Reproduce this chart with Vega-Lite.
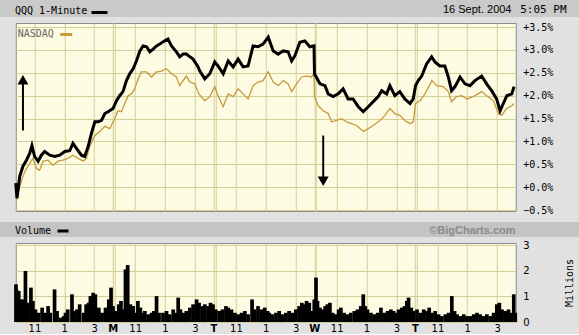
{
  "$schema": "https://vega.github.io/schema/vega-lite/v6.json",
  "background": "#e1e1e1",
  "padding": 0,
  "spacing": 0,
  "center": true,
  "config": {
    "view": {"stroke": null},
    "axis": {"domain": false, "ticks": false, "gridColor": "#d3cf9b", "gridOpacity": 1, "gridWidth": 1, "labelColor": "#000000", "titleColor": "#000000"}
  },
  "resolve": {"scale": {"color": "independent"}, "legend": {"color": "independent"}},
  "datasets": {
    "qqq": [
      {"t":15,"pct":0.09},{"t":20,"pct":-0.24},{"t":31,"pct":0.24},{"t":44,"pct":0.46},{"t":58,"pct":0.59},{"t":71,"pct":0.74},{"t":80,"pct":0.91},{"t":91,"pct":0.67},{"t":105,"pct":0.57},{"t":118,"pct":0.70},{"t":131,"pct":0.78},{"t":152,"pct":0.70},{"t":172,"pct":0.67},{"t":192,"pct":0.70},{"t":212,"pct":0.78},{"t":232,"pct":0.80},{"t":245,"pct":0.96},{"t":259,"pct":0.85},{"t":279,"pct":0.70},{"t":292,"pct":0.67},{"t":306,"pct":0.89},{"t":319,"pct":1.17},{"t":333,"pct":1.43},{"t":346,"pct":1.43},{"t":360,"pct":1.46},{"t":373,"pct":1.61},{"t":386,"pct":1.65},{"t":406,"pct":1.72},{"t":420,"pct":1.89},{"t":433,"pct":2.00},{"t":446,"pct":2.09},{"t":460,"pct":2.33},{"t":473,"pct":2.48},{"t":487,"pct":2.59},{"t":500,"pct":2.76},{"t":514,"pct":2.98},{"t":527,"pct":3.09},{"t":541,"pct":3.07},{"t":554,"pct":2.96},{"t":567,"pct":3.02},{"t":581,"pct":3.09},{"t":594,"pct":3.13},{"t":614,"pct":3.20},{"t":627,"pct":3.24},{"t":641,"pct":3.09},{"t":661,"pct":2.96},{"t":674,"pct":2.85},{"t":688,"pct":2.91},{"t":701,"pct":2.91},{"t":715,"pct":2.85},{"t":728,"pct":2.80},{"t":748,"pct":2.63},{"t":755,"pct":2.54},{"t":775,"pct":2.37},{"t":795,"pct":2.48},{"t":815,"pct":2.74},{"t":828,"pct":2.65},{"t":849,"pct":2.48},{"t":869,"pct":2.76},{"t":889,"pct":2.63},{"t":909,"pct":2.80},{"t":929,"pct":2.63},{"t":949,"pct":2.65},{"t":969,"pct":3.09},{"t":989,"pct":3.07},{"t":1009,"pct":3.13},{"t":1030,"pct":3.28},{"t":1050,"pct":2.98},{"t":1070,"pct":2.91},{"t":1090,"pct":2.98},{"t":1110,"pct":2.96},{"t":1124,"pct":2.76},{"t":1137,"pct":2.87},{"t":1157,"pct":3.17},{"t":1177,"pct":3.20},{"t":1197,"pct":3.07},{"t":1214,"pct":3.09},{"t":1216,"pct":2.48},{"t":1238,"pct":2.26},{"t":1258,"pct":2.22},{"t":1271,"pct":2.04},{"t":1291,"pct":1.98},{"t":1311,"pct":2.04},{"t":1331,"pct":2.15},{"t":1351,"pct":1.93},{"t":1371,"pct":1.93},{"t":1392,"pct":1.76},{"t":1412,"pct":1.65},{"t":1432,"pct":1.76},{"t":1452,"pct":1.87},{"t":1472,"pct":1.98},{"t":1486,"pct":2.11},{"t":1506,"pct":2.04},{"t":1519,"pct":2.22},{"t":1539,"pct":2.00},{"t":1559,"pct":2.09},{"t":1579,"pct":1.93},{"t":1600,"pct":1.83},{"t":1613,"pct":1.93},{"t":1622,"pct":2.22},{"t":1633,"pct":2.33},{"t":1647,"pct":2.43},{"t":1667,"pct":2.70},{"t":1687,"pct":2.85},{"t":1700,"pct":2.74},{"t":1720,"pct":2.65},{"t":1740,"pct":2.65},{"t":1754,"pct":2.41},{"t":1767,"pct":2.11},{"t":1781,"pct":2.20},{"t":1801,"pct":2.41},{"t":1821,"pct":2.26},{"t":1841,"pct":2.22},{"t":1861,"pct":2.33},{"t":1888,"pct":2.43},{"t":1908,"pct":2.26},{"t":1928,"pct":2.11},{"t":1948,"pct":1.93},{"t":1962,"pct":1.67},{"t":1975,"pct":1.83},{"t":1989,"pct":2.00},{"t":2009,"pct":2.04},{"t":2018,"pct":2.20}
    ],
    "ndx": [
      {"t":18,"pct":-0.28},{"t":31,"pct":0.02},{"t":44,"pct":0.24},{"t":58,"pct":0.41},{"t":71,"pct":0.52},{"t":84,"pct":0.63},{"t":98,"pct":0.41},{"t":111,"pct":0.37},{"t":125,"pct":0.57},{"t":145,"pct":0.59},{"t":165,"pct":0.48},{"t":185,"pct":0.57},{"t":205,"pct":0.59},{"t":225,"pct":0.63},{"t":245,"pct":0.70},{"t":265,"pct":0.63},{"t":286,"pct":0.57},{"t":299,"pct":0.63},{"t":312,"pct":0.89},{"t":333,"pct":1.13},{"t":353,"pct":1.22},{"t":373,"pct":1.33},{"t":393,"pct":1.28},{"t":413,"pct":1.50},{"t":426,"pct":1.67},{"t":440,"pct":1.65},{"t":453,"pct":1.83},{"t":467,"pct":2.00},{"t":480,"pct":2.04},{"t":493,"pct":2.15},{"t":507,"pct":2.37},{"t":520,"pct":2.52},{"t":541,"pct":2.52},{"t":561,"pct":2.41},{"t":581,"pct":2.52},{"t":601,"pct":2.54},{"t":621,"pct":2.59},{"t":641,"pct":2.48},{"t":661,"pct":2.41},{"t":674,"pct":2.22},{"t":688,"pct":2.33},{"t":701,"pct":2.43},{"t":715,"pct":2.30},{"t":735,"pct":2.26},{"t":751,"pct":2.04},{"t":775,"pct":1.89},{"t":795,"pct":1.98},{"t":815,"pct":2.20},{"t":828,"pct":2.00},{"t":849,"pct":1.76},{"t":869,"pct":2.04},{"t":889,"pct":1.98},{"t":909,"pct":2.15},{"t":929,"pct":2.04},{"t":949,"pct":1.93},{"t":969,"pct":2.22},{"t":989,"pct":2.30},{"t":1009,"pct":2.33},{"t":1030,"pct":2.52},{"t":1050,"pct":2.30},{"t":1070,"pct":2.22},{"t":1090,"pct":2.33},{"t":1110,"pct":2.26},{"t":1124,"pct":2.09},{"t":1144,"pct":2.26},{"t":1164,"pct":2.41},{"t":1184,"pct":2.43},{"t":1204,"pct":2.41},{"t":1214,"pct":2.48},{"t":1216,"pct":1.98},{"t":1231,"pct":1.78},{"t":1251,"pct":1.67},{"t":1271,"pct":1.61},{"t":1285,"pct":1.43},{"t":1305,"pct":1.46},{"t":1325,"pct":1.50},{"t":1345,"pct":1.43},{"t":1365,"pct":1.39},{"t":1385,"pct":1.35},{"t":1412,"pct":1.22},{"t":1432,"pct":1.28},{"t":1452,"pct":1.35},{"t":1479,"pct":1.46},{"t":1499,"pct":1.57},{"t":1519,"pct":1.72},{"t":1539,"pct":1.61},{"t":1559,"pct":1.57},{"t":1579,"pct":1.46},{"t":1600,"pct":1.39},{"t":1613,"pct":1.43},{"t":1622,"pct":1.83},{"t":1640,"pct":1.89},{"t":1660,"pct":2.04},{"t":1688,"pct":2.33},{"t":1707,"pct":2.22},{"t":1733,"pct":2.20},{"t":1754,"pct":2.09},{"t":1767,"pct":1.87},{"t":1787,"pct":1.98},{"t":1808,"pct":2.00},{"t":1828,"pct":1.93},{"t":1854,"pct":1.98},{"t":1888,"pct":2.09},{"t":1908,"pct":2.00},{"t":1935,"pct":1.89},{"t":1955,"pct":1.61},{"t":1968,"pct":1.57},{"t":1988,"pct":1.72},{"t":2009,"pct":1.78},{"t":2018,"pct":1.83}
    ],
    "vol": [
      {"t":16,"v":1.47},{"t":18,"v":1.27},{"t":27,"v":1.21},{"t":34,"v":0.88},{"t":44,"v":0.88},{"t":54,"v":1.99},{"t":63,"v":0.75},{"t":76,"v":1.34},{"t":84,"v":0.82},{"t":94,"v":0.49},{"t":107,"v":0.36},{"t":121,"v":0.56},{"t":134,"v":0.36},{"t":145,"v":0.62},{"t":154,"v":0.36},{"t":171,"v":1.27},{"t":181,"v":0.43},{"t":195,"v":0.17},{"t":208,"v":0.23},{"t":215,"v":0.36},{"t":224,"v":0.49},{"t":241,"v":1.08},{"t":248,"v":0.43},{"t":261,"v":0.49},{"t":272,"v":0.69},{"t":288,"v":0.36},{"t":298,"v":0.69},{"t":308,"v":0.75},{"t":315,"v":1.01},{"t":326,"v":1.14},{"t":335,"v":1.08},{"t":349,"v":0.56},{"t":362,"v":0.36},{"t":376,"v":0.56},{"t":389,"v":0.88},{"t":398,"v":1.34},{"t":406,"v":0.62},{"t":416,"v":0.43},{"t":429,"v":0.69},{"t":438,"v":0.82},{"t":449,"v":0.49},{"t":456,"v":2.05},{"t":465,"v":2.22},{"t":476,"v":0.69},{"t":487,"v":0.62},{"t":496,"v":0.36},{"t":506,"v":0.82},{"t":516,"v":0.56},{"t":524,"v":0.36},{"t":534,"v":0.43},{"t":547,"v":0.30},{"t":561,"v":0.36},{"t":570,"v":0.43},{"t":581,"v":1.01},{"t":591,"v":0.36},{"t":607,"v":0.36},{"t":621,"v":0.43},{"t":634,"v":0.30},{"t":648,"v":0.49},{"t":658,"v":0.36},{"t":668,"v":0.95},{"t":677,"v":0.49},{"t":688,"v":0.36},{"t":701,"v":0.43},{"t":715,"v":0.56},{"t":728,"v":0.69},{"t":742,"v":0.88},{"t":752,"v":0.75},{"t":766,"v":0.62},{"t":775,"v":0.69},{"t":788,"v":0.62},{"t":798,"v":0.75},{"t":808,"v":0.69},{"t":819,"v":0.49},{"t":833,"v":0.43},{"t":846,"v":0.49},{"t":860,"v":0.62},{"t":869,"v":0.56},{"t":882,"v":0.49},{"t":896,"v":0.36},{"t":909,"v":0.30},{"t":923,"v":0.36},{"t":936,"v":0.43},{"t":949,"v":0.30},{"t":965,"v":0.88},{"t":976,"v":0.49},{"t":989,"v":0.62},{"t":1003,"v":0.49},{"t":1016,"v":0.56},{"t":1027,"v":0.43},{"t":1034,"v":0.36},{"t":1047,"v":0.30},{"t":1061,"v":0.36},{"t":1074,"v":0.43},{"t":1088,"v":0.30},{"t":1101,"v":0.36},{"t":1114,"v":0.43},{"t":1128,"v":0.36},{"t":1141,"v":0.49},{"t":1154,"v":0.62},{"t":1165,"v":0.75},{"t":1174,"v":0.69},{"t":1184,"v":0.82},{"t":1195,"v":0.75},{"t":1205,"v":0.43},{"t":1215,"v":0.88},{"t":1222,"v":1.73},{"t":1228,"v":0.82},{"t":1238,"v":0.56},{"t":1248,"v":0.49},{"t":1259,"v":0.62},{"t":1268,"v":0.69},{"t":1278,"v":0.75},{"t":1289,"v":0.36},{"t":1302,"v":0.30},{"t":1313,"v":0.49},{"t":1322,"v":0.56},{"t":1335,"v":0.36},{"t":1349,"v":0.30},{"t":1362,"v":0.36},{"t":1376,"v":0.43},{"t":1389,"v":0.49},{"t":1402,"v":0.62},{"t":1412,"v":1.08},{"t":1420,"v":0.62},{"t":1429,"v":0.49},{"t":1443,"v":0.36},{"t":1456,"v":0.30},{"t":1470,"v":0.36},{"t":1483,"v":0.56},{"t":1496,"v":0.36},{"t":1510,"v":0.43},{"t":1523,"v":0.49},{"t":1534,"v":0.43},{"t":1540,"v":0.36},{"t":1554,"v":0.49},{"t":1567,"v":0.56},{"t":1578,"v":0.62},{"t":1587,"v":0.82},{"t":1594,"v":0.95},{"t":1605,"v":0.56},{"t":1614,"v":0.43},{"t":1628,"v":0.49},{"t":1641,"v":0.36},{"t":1655,"v":0.49},{"t":1668,"v":0.43},{"t":1677,"v":0.56},{"t":1688,"v":0.36},{"t":1701,"v":0.43},{"t":1715,"v":0.30},{"t":1728,"v":0.23},{"t":1742,"v":0.30},{"t":1755,"v":0.36},{"t":1768,"v":1.01},{"t":1779,"v":0.43},{"t":1789,"v":0.30},{"t":1802,"v":0.23},{"t":1816,"v":0.30},{"t":1829,"v":0.23},{"t":1842,"v":0.23},{"t":1856,"v":0.30},{"t":1869,"v":0.36},{"t":1882,"v":0.30},{"t":1896,"v":0.23},{"t":1909,"v":0.30},{"t":1923,"v":0.23},{"t":1936,"v":0.36},{"t":1949,"v":0.69},{"t":1959,"v":0.75},{"t":1970,"v":0.49},{"t":1983,"v":0.43},{"t":1996,"v":0.49},{"t":2003,"v":0.36},{"t":2017,"v":1.08},{"t":2023,"v":0.36}
    ],
    "arrows": [
      {"t":44,"from":1.24,"to":2.26,"head":2.35,"dir":"up"},
      {"t":1251,"from":1.13,"to":0.22,"head":0.13,"dir":"down"}
    ]
  },
  "vconcat": [
    {
      "width": 594, "height": 17,
      "view": {"fill": "#c9c9c9", "stroke": null},
      "data": {"values": [{"t": 0.5}]},
      "mark": {"type": "point", "opacity": 0},
      "encoding": {
        "x": {"field": "t", "type": "quantitative", "scale": {"domain": [0, 1]},
          "axis": {"orient": "bottom", "labels": false, "grid": false, "title": "16 Sept. 2004", "titleFont": "Liberation Sans", "titleFontSize": 11, "titleFontWeight": "normal", "titleAlign": "right", "titleX": 511, "titleY": -8, "titleBaseline": "middle", "minExtent": 0, "maxExtent": 0}},
        "y": {"field": "t", "type": "quantitative", "scale": {"domain": [0, 1]},
          "axis": {"orient": "right", "labels": false, "grid": false, "title": "5:05 PM", "titleFont": "DejaVu Sans Mono", "titleFontSize": 11, "titleFontWeight": "normal", "titleAngle": 0, "titleAlign": "right", "titleX": -28, "titleY": 9, "titleBaseline": "middle", "minExtent": 0, "maxExtent": 0}},
        "color": {"datum": "QQQ 1-Minute", "scale": {"range": ["#000000"]},
          "legend": {"orient": "none", "legendX": 15, "legendY": 3, "title": "QQQ 1-Minute", "titleOrient": "left", "titleFont": "DejaVu Sans Mono", "titleFontSize": 10, "titleFontWeight": "normal", "titleColor": "#000000", "titlePadding": 2, "labelExpr": "''", "symbolType": "stroke", "symbolStrokeWidth": 3, "symbolSize": 256, "symbolOpacity": 1}}
      }
    },
    {
      "width": 500, "height": 188,
      "view": {"fill": "#fdfbe1", "stroke": "#8c8c8c"},
      "layer": [
        {
          "data": {"name": "ndx"},
          "mark": {"type": "line", "strokeWidth": 1.3},
          "encoding": {
            "x": {"field": "t", "type": "quantitative", "scale": {"domain": [15, 2025], "nice": false, "zero": false},
              "axis": {"orient": "bottom", "labels": false, "grid": false, "title": null, "minExtent": 10, "maxExtent": 10}},
            "y": {"field": "pct", "type": "quantitative", "scale": {"domain": [-0.52, 3.59], "nice": false, "zero": false},
              "axis": {"orient": "right", "values": [-0.5, 0, 0.5, 1, 1.5, 2, 2.5, 3, 3.5], "labelExpr": "(datum.value >= 0 ? '+' : '') + format(datum.value, '.1f') + '%'", "labelFont": "DejaVu Sans Mono", "labelFontSize": 10, "labelPadding": 7, "title": null, "grid": true, "minExtent": 62, "maxExtent": 62}},
            "color": {"datum": "NASDAQ", "scale": {"range": ["#c69b3e"]},
              "legend": {"orient": "none", "legendX": 2, "legendY": 4, "title": "NASDAQ", "titleOrient": "left", "titleFont": "DejaVu Sans Mono", "titleFontSize": 10, "titleFontWeight": "normal", "titleColor": "#666666", "titlePadding": 4, "labelExpr": "''", "symbolType": "stroke", "symbolStrokeWidth": 3, "symbolSize": 144, "symbolOpacity": 1}}
          }
        },
        {
          "data": {"name": "qqq"},
          "mark": {"type": "line", "color": "#000000", "strokeWidth": 3},
          "encoding": {
            "x": {"field": "t", "type": "quantitative", "scale": {"domain": [15, 2025], "nice": false, "zero": false},
              "axis": {"orient": "top", "labels": false, "grid": true, "values": [90, 210, 330, 405, 413, 495, 615, 735, 810, 818, 900, 1020, 1140, 1215, 1223, 1305, 1425, 1545, 1620, 1628, 1710, 1830, 1950], "title": null, "minExtent": 3, "maxExtent": 3}},
            "y": {"field": "pct", "type": "quantitative", "scale": {"domain": [-0.52, 3.59], "nice": false, "zero": false}, "axis": null}
          }
        },
        {
          "data": {"name": "arrows"},
          "mark": {"type": "rule", "color": "#000000", "strokeWidth": 2},
          "encoding": {
            "x": {"field": "t", "type": "quantitative", "axis": null},
            "y": {"field": "from", "type": "quantitative", "axis": null},
            "y2": {"field": "to"}
          }
        },
        {
          "data": {"name": "arrows"},
          "mark": {"type": "point", "filled": true, "color": "#000000", "opacity": 1, "size": 120},
          "encoding": {
            "x": {"field": "t", "type": "quantitative", "axis": null},
            "y": {"field": "head", "type": "quantitative", "axis": null},
            "shape": {"field": "dir", "type": "nominal", "scale": {"domain": ["up", "down"], "range": ["triangle-up", "triangle-down"]}, "legend": null}
          }
        }
      ],
      "resolve": {"axis": {"x": "independent", "y": "independent"}}
    },
    {
      "width": 594, "height": 15,
      "view": {"fill": "#c4c4c4", "stroke": null},
      "data": {"values": [{"t": 0.5}]},
      "mark": {"type": "point", "opacity": 0},
      "encoding": {
        "x": {"field": "t", "type": "quantitative", "scale": {"domain": [0, 1]},
          "axis": {"orient": "bottom", "labels": false, "grid": false, "title": "©BigCharts.com", "titleFont": "Liberation Sans", "titleFontSize": 11, "titleFontWeight": "bold", "titleColor": "#8a8a8a", "titleAlign": "right", "titleX": 515, "titleY": -7, "titleBaseline": "middle", "minExtent": 0, "maxExtent": 0}},
        "color": {"datum": "Volume", "scale": {"range": ["#000000"]},
          "legend": {"orient": "none", "legendX": 15, "legendY": 2, "title": "Volume", "titleOrient": "left", "titleFont": "DejaVu Sans Mono", "titleFontSize": 10, "titleFontWeight": "normal", "titleColor": "#000000", "titlePadding": 4, "labelExpr": "''", "symbolType": "stroke", "symbolStrokeWidth": 3, "symbolSize": 121, "symbolOpacity": 1}}
      }
    },
    {
      "width": 500, "height": 79,
      "view": {"fill": "#fdfbe1", "stroke": "#8c8c8c"},
      "data": {"name": "vol"},
      "layer": [
        {
          "mark": {"type": "rule", "strokeWidth": 3.7, "color": "#000000"},
          "encoding": {
            "x": {"field": "t", "type": "quantitative", "scale": {"domain": [15, 2025], "nice": false, "zero": false},
              "axis": {"orient": "bottom", "values": [90, 210, 330, 405, 495, 615, 735, 810, 900, 1020, 1140, 1215, 1305, 1425, 1545, 1620, 1710, 1830, 1950], "labelExpr": "datum.value == 405 ? 'M' : datum.value == 810 ? 'T' : datum.value == 1215 ? 'W' : datum.value == 1620 ? 'T' : datum.value % 405 == 90 ? '11' : datum.value % 405 == 210 ? '1' : '3'", "labelFont": "DejaVu Sans", "labelFontSize": 10, "labelFontWeight": {"condition": {"test": "datum.value % 405 == 0", "value": "bold"}, "value": "normal"}, "labelPadding": 1, "labelOverlap": false, "labelFlush": false, "grid": false, "title": null}},
            "y": {"field": "v", "type": "quantitative", "scale": {"domain": [0, 3.08], "nice": false},
              "axis": {"orient": "right", "values": [0, 1, 2, 3], "labelFont": "DejaVu Sans", "labelFontSize": 10, "labelPadding": 7, "grid": true, "minExtent": 62, "maxExtent": 62, "title": "Millions", "titleFont": "DejaVu Sans Mono", "titleFontSize": 10, "titleFontWeight": "normal", "titleAngle": 270, "titleAlign": "center", "titleBaseline": "middle", "titleX": 54, "titleY": 39.5}},
            "y2": {"datum": 0}
          }
        },
        {
          "mark": {"type": "rule", "opacity": 0},
          "encoding": {
            "x": {"field": "t", "type": "quantitative", "scale": {"domain": [15, 2025], "nice": false, "zero": false},
              "axis": {"orient": "top", "labels": false, "grid": true, "values": [90, 210, 330, 405, 413, 495, 615, 735, 810, 818, 900, 1020, 1140, 1215, 1223, 1305, 1425, 1545, 1620, 1628, 1710, 1830, 1950], "title": null, "minExtent": 5, "maxExtent": 5}},
            "y": {"field": "v", "type": "quantitative", "scale": {"domain": [0, 3.08], "nice": false}, "axis": null}
          }
        }
      ],
      "resolve": {"axis": {"x": "independent", "y": "independent"}}
    }
  ]
}
